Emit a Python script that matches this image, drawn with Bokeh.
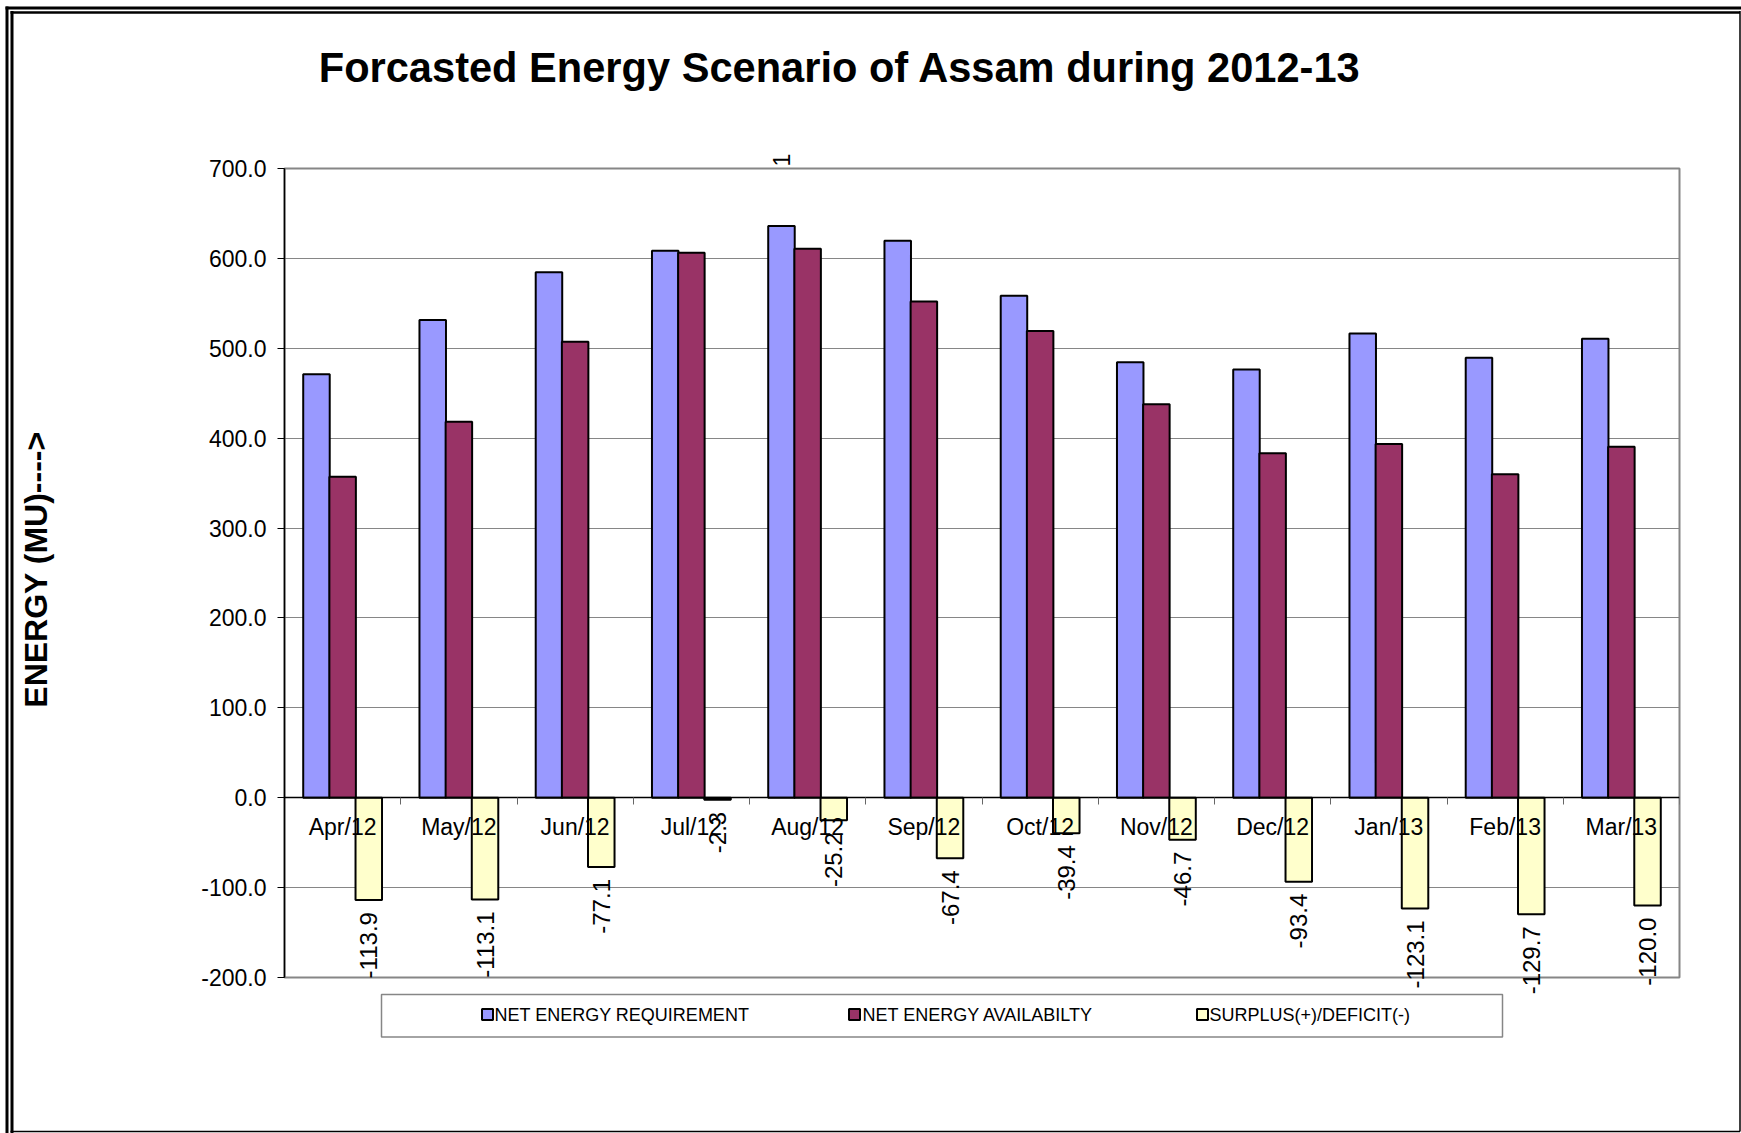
import numpy as np
from bokeh.plotting import figure
from bokeh.models import (Range1d, FixedTicker, NumeralTickFormatter, LinearAxis,
                          ColumnDataSource)
from bokeh.transform import dodge
from bokeh.core.properties import value
from bokeh.embed import file_html
from bokeh.resources import INLINE

# ---------------- data ----------------
months = ["Apr/12", "May/12", "Jun/12", "Jul/12", "Aug/12", "Sep/12",
          "Oct/12", "Nov/12", "Dec/12", "Jan/13", "Feb/13", "Mar/13"]
requirement = [471.0, 531.5, 584.5, 608.5, 636.0, 619.5, 558.5, 484.5, 476.5, 516.5, 489.5, 510.5]
availability = [357.1, 418.4, 507.4, 606.2, 610.8, 552.1, 519.1, 437.8, 383.1, 393.4, 359.8, 390.5]
surplus = [-113.9, -113.1, -77.1, -2.3, -25.2, -67.4, -39.4, -46.7, -93.4, -123.1, -129.7, -120.0]
series_names = ["NET ENERGY REQUIREMENT", "NET ENERGY AVAILABILTY", "SURPLUS(+)/DEFICIT(-)"]
y_ticks = [-200, -100, 0, 100, 200, 300, 400, 500, 600, 700]
title_text = "Forcasted Energy Scenario of Assam during 2012-13"
y_label_text = "ENERGY (MU)---->"
stray_label = "1"   # stray data label shown above the Aug/12 requirement bar

# ---------------- styles / layout ----------------
series_colors = ["#9999FF", "#993366", "#FFFFCC"]
W, H = 1741, 1133
FL, FR, FT, FB = 284, 1679, 168, 977
y_min, y_max = y_ticks[0], y_ticks[-1]
n = len(months)
FONT = "Liberation Sans"
BAR_W = 0.228
OFF = 0.225


def px2x(px):
    return (px - FL) / (FR - FL) * n


def px2y(py):
    return y_max - (py - FT) / (FB - FT) * (y_max - y_min)


pos = np.arange(n) + 0.5
src = ColumnDataSource(dict(pos=pos, req=requirement, avail=availability, sur=surplus,
                            lab=[f"{v:.1f}" for v in surplus]))

p = figure(width=W, height=H, output_backend="svg", toolbar_location=None,
           x_range=Range1d(0, n), y_range=Range1d(y_min, y_max),
           x_axis_location=None, min_border_left=FL, min_border_right=W - FR,
           min_border_top=FT, min_border_bottom=H - FB)
p.background_fill_color = "white"
p.border_fill_color = "white"
p.outline_line_color = "#868686"
p.outline_line_width = 2

# y axis
p.yaxis.ticker = FixedTicker(ticks=y_ticks)
p.yaxis.formatter = NumeralTickFormatter(format="0.0")
p.yaxis.axis_line_color = "black"
p.yaxis.axis_line_width = 1.5
p.yaxis.major_tick_out = 7
p.yaxis.major_tick_in = 0
p.yaxis.major_tick_line_color = "black"
p.yaxis.minor_tick_line_color = None
p.yaxis.major_label_text_font = FONT
p.yaxis.major_label_text_font_size = "23px"
p.yaxis.major_label_text_color = "black"
p.yaxis.major_label_standoff = 11

p.ygrid.ticker = FixedTicker(ticks=y_ticks)
p.ygrid.grid_line_color = "#868686"
p.ygrid.grid_line_width = 1
p.xgrid.visible = False

# x axis drawn at zero
xaxis = LinearAxis(fixed_location=0,
                   ticker=FixedTicker(ticks=list(pos), minor_ticks=list(range(n + 1))),
                   major_label_overrides={float(x): m for x, m in zip(pos, months)})
xaxis.axis_line_color = "black"
xaxis.axis_line_width = 1.5
xaxis.major_tick_out = 0
xaxis.major_tick_in = 0
xaxis.minor_tick_out = 7
xaxis.minor_tick_in = 0
xaxis.minor_tick_line_color = "#666666"
xaxis.major_label_text_font = FONT
xaxis.major_label_text_font_size = "23px"
xaxis.major_label_text_color = "black"
xaxis.major_label_standoff = 9
p.add_layout(xaxis, "below")

# bars
r1 = p.vbar(x=dodge("pos", -OFF, range=p.x_range), top="req", bottom=0, width=BAR_W,
            source=src, fill_color=series_colors[0], line_color="black", line_width=2)
r2 = p.vbar(x=dodge("pos", 0, range=p.x_range), top="avail", bottom=0, width=BAR_W,
            source=src, fill_color=series_colors[1], line_color="black", line_width=2)
r3 = p.vbar(x=dodge("pos", OFF, range=p.x_range), top=0, bottom="sur", width=BAR_W,
            source=src, fill_color=series_colors[2], line_color="black", line_width=2)

# data labels for surplus/deficit
p.text(x=dodge("pos", OFF, range=p.x_range), y="sur", text="lab", source=src,
       angle=np.pi / 2, text_align="right", text_baseline="middle", y_offset=12,
       text_font=value(FONT), text_font_size="24px", text_color="black", level="overlay")

# stray label above Aug requirement bar
p.text(x=[pos[4] - OFF], y=[y_max], text=[stray_label], angle=np.pi / 2,
       text_align="left", text_baseline="middle", y_offset=-2,
       text_font=value(FONT), text_font_size="23px", text_color="black", level="overlay")

# title and y label
p.text(x=[px2x(839.5)], y=[px2y(67)], text=[title_text], text_align="center",
       text_baseline="middle", text_font=value(FONT), text_font_size="41.6px",
       text_font_style="bold", text_color="black", level="overlay")
p.text(x=[px2x(35.5)], y=[px2y(569)], text=[y_label_text], angle=np.pi / 2,
       text_align="center", text_baseline="middle", text_font=value(FONT),
       text_font_size="32px", text_font_style="bold", text_color="black", level="overlay")

# legend (box, keys, labels)
p.quad(left=[px2x(381)], right=[px2x(1502)], top=[px2y(994)], bottom=[px2y(1036.5)],
       fill_alpha=0, line_color="#868686", line_width=1.5, level="overlay")
key_px = [487, 854, 1202]
text_px = [494, 862, 1209]
leg_py = 1014
KEY = 11
ksrc = ColumnDataSource(dict(
    left=[px2x(v - KEY / 2) for v in key_px], right=[px2x(v + KEY / 2) for v in key_px],
    top=[px2y(leg_py - KEY / 2)] * 3, bottom=[px2y(leg_py + KEY / 2)] * 3,
    color=series_colors))
p.quad(left="left", right="right", top="top", bottom="bottom", source=ksrc,
       fill_color="color", line_color="black", line_width=2, level="overlay")
p.text(x=[px2x(v) for v in text_px], y=[px2y(leg_py)] * 3, text=series_names,
       text_align="left", text_baseline="middle", text_font=value(FONT),
       text_font_size="18px", text_color="black", level="overlay")

# double page frame
fsrc = ColumnDataSource(dict(
    x0=[px2x(v) for v in [5, 6.5, 10, 11.5, 1739.5, 10]],
    x1=[px2x(v) for v in [W, 6.5, 1739.5, 11.5, 1739.5, 1739.5]],
    y0=[px2y(v) for v in [7.5, 6, 12, 10.5, 10.5, 1131]],
    y1=[px2y(v) for v in [7.5, H, 12, H, 1131, 1131]],
    lw=[3, 3, 2.5, 3, 1.5, 1.5]))
p.segment(x0="x0", y0="y0", x1="x1", y1="y1", line_width="lw", line_color="black",
          source=fsrc, level="overlay")

open("out.html", "w").write(file_html(p, INLINE))
